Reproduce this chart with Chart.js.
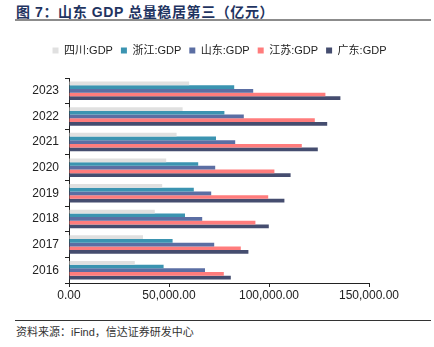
<!DOCTYPE html>
<html>
<head>
<meta charset="utf-8">
<script src="https://cdn.jsdelivr.net/npm/chart.js@4"></script>
<style>
  body { margin: 0; background: #fff; width: 434px; height: 347px; position: relative; overflow: hidden; font-family: "Liberation Sans", Arial, "Noto Sans CJK SC", sans-serif; }
  #title { position: absolute; left: 16px; top: 1px; font-size: 14px; font-weight: bold; color: #1f3461; font-family: "Liberation Sans", Arial, "Noto Sans CJK SC", sans-serif; letter-spacing: 0.6px; }
  #topLine { position: absolute; left: 15px; top: 19px; width: 416px; height: 2px; background: #8c8c8c; }
  #bottomLine { position: absolute; left: 15px; top: 320px; width: 416px; height: 1px; background: #333; }
  #source { position: absolute; left: 16px; top: 323px; font-size: 11px; color: #333; font-family: "Liberation Sans", "Noto Sans CJK SC", sans-serif; }
  #chart { position: absolute; left: 0; top: 0; }
</style>
</head>
<body>
<div id="title">图 7：山东 GDP 总量稳居第三（亿元）</div>
<div id="topLine"></div>
<canvas id="chart" width="434" height="318"></canvas>
<div id="bottomLine"></div>
<div id="source">资料来源：iFind，信达证券研发中心</div>
<script>
// 年份（从上到下）
const years = ["2023", "2022", "2021", "2020", "2019", "2018", "2017", "2016"];

// 各省 GDP（亿元）
const sichuan   = [60100, 56800, 53800, 48600, 46600, 42900, 37000, 32900];
const zhejiang  = [82600, 77700, 73500, 64600, 62400, 58000, 51800, 47300];
const shandong  = [92100, 87400, 83100, 73100, 71100, 66600, 72600, 68000];
const jiangsu   = [128200, 122900, 116400, 102700, 99600, 93200, 85900, 77400];
const guangdong = [135700, 129100, 124400, 110800, 107700, 99900, 89700, 80900];

const seriesNames = ["四川:GDP", "浙江:GDP", "山东:GDP", "江苏:GDP", "广东:GDP"];
const seriesColors = ["#e0e0e0", "#3b94b1", "#5b6ea3", "#ff7c7c", "#454d6f"];

const xTicks = [0, 50000, 100000, 150000];

const seriesData = [sichuan, zhejiang, shandong, jiangsu, guangdong];

const datasets = seriesData.map((d, i) => ({
  label: seriesNames[i],
  data: d,
  backgroundColor: seriesColors[i],
  borderWidth: 0,
  barPercentage: 1.0,
  categoryPercentage: 0.72
}));

const fmt = (v) => v.toLocaleString("en-US", { minimumFractionDigits: 2, maximumFractionDigits: 2 });

new Chart(document.getElementById("chart"), {
  type: "bar",
  data: { labels: years, datasets: datasets },
  options: {
    indexAxis: "y",
    responsive: false,
    animation: false,
    devicePixelRatio: 1,
    layout: { padding: { top: 37, right: 0, left: 5, bottom: 0 } },
    plugins: {
      legend: {
        display: true,
        position: "top",
        labels: {
          boxWidth: 6,
          boxHeight: 6,
          color: "#222",
          padding: 8,
          font: { size: 11, family: "Liberation Sans, Arial, Noto Sans CJK SC, sans-serif" }
        }
      },
      tooltip: { enabled: false }
    },
    scales: {
      x: {
        min: 0,
        max: 150000,
        afterBuildTicks: (scale) => { scale.ticks = xTicks.map(v => ({ value: v })); },
        ticks: {
          color: "#222",
          padding: 1,
          maxRotation: 0,
          font: { size: 12, family: "Liberation Sans, Arial, sans-serif" },
          callback: (v) => fmt(v)
        },
        grid: { display: true, drawOnChartArea: false, drawTicks: true, tickLength: 4, color: "#222" },
        border: { display: true, color: "#222", width: 1 },
        afterFit: (scale) => { scale.height = 35; }
      },
      y: {
        ticks: {
          color: "#222",
          padding: 6,
          font: { size: 12, family: "Liberation Sans, Arial, sans-serif" }
        },
        grid: { display: true, offset: true, drawOnChartArea: false, drawTicks: true, tickLength: 4, color: "#222" },
        border: { display: true, color: "#222", width: 1 },
        afterFit: (scale) => { scale.width = 64; }
      },
      // 右侧留白
      spacer: {
        type: "category",
        position: "right",
        grid: { display: false },
        border: { display: false },
        ticks: { display: false },
        afterFit: (scale) => { scale.width = 65; }
      }
    }
  },
  plugins: [{
    id: "legendSpace",
    beforeInit(chart) {
      const origFit = chart.legend.fit;
      chart.legend.fit = function () {
        origFit.bind(chart.legend)();
        this.height += 12;
      };
    }
  }]
});
</script>
</body>
</html>
